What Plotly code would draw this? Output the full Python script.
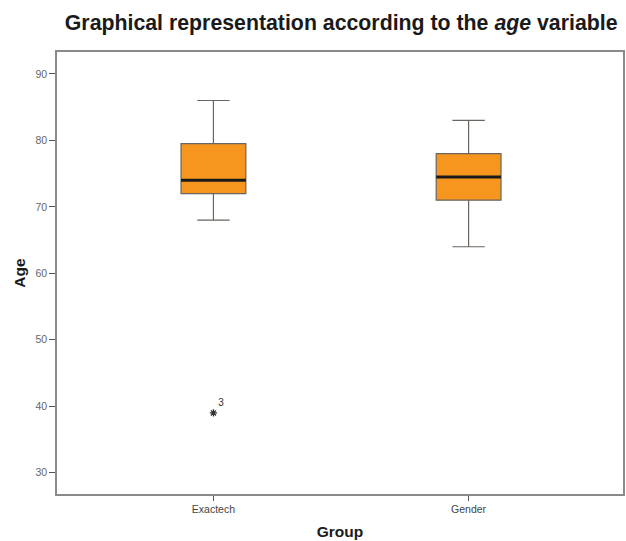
import plotly.graph_objects as go

groups = ["Exactech", "Gender"]
q1 = [72, 71]
median = [74, 74.5]
q3 = [79.5, 78]
lower_whisker = [68, 64]
upper_whisker = [86, 83]
outlier_group = [0]
outlier_value = [39]
outlier_label = ["3"]
y_ticks = [30, 40, 50, 60, 70, 80, 90]

FONT = "Liberation Sans, Arial, sans-serif"
BOX_W = 0.254
fig = go.Figure()
for i, g in enumerate(groups):
    fig.add_trace(go.Box(
        x=[i], q1=[q1[i]], median=[median[i]], q3=[q3[i]],
        lowerfence=[lower_whisker[i]], upperfence=[upper_whisker[i]],
        width=BOX_W, whiskerwidth=0.5, fillcolor="#F7961F",
        line=dict(color="#6a6560", width=1.2), boxpoints=False,
        name=g, showlegend=False, hoverinfo="skip"))
    fig.add_trace(go.Scatter(
        x=[i - BOX_W / 2, i + BOX_W / 2], y=[median[i], median[i]],
        mode="lines", line=dict(color="#1a1a1a", width=3),
        showlegend=False, hoverinfo="skip"))

fig.add_trace(go.Scatter(
    x=outlier_group, y=outlier_value, mode="markers+text",
    marker=dict(symbol="asterisk-open", size=6, color="#333",
                line=dict(color="#333", width=1.3)),
    text=outlier_label, textposition="top right",
    textfont=dict(family=FONT, size=10, color="#333"),
    showlegend=False, hoverinfo="skip"))

fig.update_layout(
    width=626, height=541,
    margin=dict(l=57, r=1, t=52, b=47),
    paper_bgcolor="white", plot_bgcolor="white",
    title=dict(text="Graphical representation according to the <i>age</i> variable",
               x=0.545, xanchor="center", y=0.958, yanchor="middle",
               font=dict(family=FONT, size=21.3, color="#1a1a1a", weight="bold")),
    xaxis=dict(range=[-0.613, 1.605], tickvals=[0, 1], ticktext=groups,
               showgrid=False, zeroline=False, showline=True, mirror=True,
               linecolor="#8a8a8a", linewidth=1.5, ticks="outside", ticklen=5,
               tickcolor="#555", tickfont=dict(family=FONT, size=10.5, color="#444"),
               title=dict(text="<b>Group</b>", standoff=12,
                          font=dict(family=FONT, size=15.5, color="#1a1a1a"))),
    yaxis=dict(range=[26.8, 93.3], tickvals=y_ticks,
               showgrid=False, zeroline=False, showline=True, mirror=True,
               linecolor="#8a8a8a", linewidth=1.5, ticks="outside", ticklen=6,
               tickcolor="#555", tickfont=dict(family=FONT, size=10.5, color="#666"),
               title=dict(text="<b>Age</b>", standoff=6,
                          font=dict(family=FONT, size=15.5, color="#1a1a1a"))),
)
fig.write_html("out.html", config={"displayModeBar": False},
               post_script="document.body.style.margin='0';document.body.style.overflow='hidden';")
